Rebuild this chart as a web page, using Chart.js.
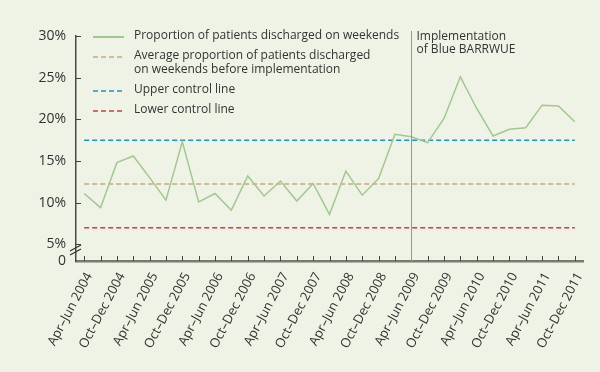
<!DOCTYPE html>
<html>
<head>
<meta charset="utf-8">
<script src="https://cdn.jsdelivr.net/npm/chart.js@4/dist/chart.umd.min.js"></script>
<style>
  html, body { margin: 0; padding: 0; background: #eef3e6; }
  canvas { display: block; }
</style>
</head>
<body>
<canvas id="chart" width="600" height="372"></canvas>
<script>
// quarterly data, Apr–Jun 2004 to Oct–Dec 2011
const quarters = [
  'Apr–Jun 2004', 'Jul–Sep 2004', 'Oct–Dec 2004', 'Jan–Mar 2005',
  'Apr–Jun 2005', 'Jul–Sep 2005', 'Oct–Dec 2005', 'Jan–Mar 2006',
  'Apr–Jun 2006', 'Jul–Sep 2006', 'Oct–Dec 2006', 'Jan–Mar 2007',
  'Apr–Jun 2007', 'Jul–Sep 2007', 'Oct–Dec 2007', 'Jan–Mar 2008',
  'Apr–Jun 2008', 'Jul–Sep 2008', 'Oct–Dec 2008', 'Jan–Mar 2009',
  'Apr–Jun 2009', 'Jul–Sep 2009', 'Oct–Dec 2009', 'Jan–Mar 2010',
  'Apr–Jun 2010', 'Jul–Sep 2010', 'Oct–Dec 2010', 'Jan–Mar 2011',
  'Apr–Jun 2011', 'Jul–Sep 2011', 'Oct–Dec 2011'
];
const weekendShare = [
  11.1, 9.4, 14.8, 15.6, 13.0, 10.3, 17.3, 10.1,
  11.1, 9.1, 13.2, 10.8, 12.6, 10.2, 12.3, 8.6,
  13.8, 10.9, 12.9, 18.2, 17.9, 17.2, 20.1, 25.1,
  21.3, 18.0, 18.8, 19.0, 21.7, 21.6, 19.7
];
const averageBefore = 12.25;
const upperControl = 17.5;
const lowerControl = 7.0;
const yTicks = [3, 5, 10, 15, 20, 25, 30];   // 3 is the broken-axis floor, shown as "0"
const implementationIndex = 20;
const implementationText = ['Implementation', 'of Blue BARRWUE'];

const FONT = '"Open Sans", sans-serif';

const flat = v => quarters.map(() => v);

const bgPlugin = {
  id: 'bg',
  beforeDraw(chart) {
    const ctx = chart.ctx;
    ctx.save();
    ctx.fillStyle = '#eef3e6';
    ctx.fillRect(0, 0, chart.width, chart.height);
    ctx.restore();
  }
};

const extrasPlugin = {
  id: 'extras',
  afterDraw(chart) {
    const ctx = chart.ctx;
    const x = chart.scales.x, y = chart.scales.y;
    const area = chart.chartArea;
    ctx.save();

    // inward tick marks
    ctx.strokeStyle = '#444';
    ctx.lineWidth = 1;
    x.ticks.forEach((t, i) => {
      const px = Math.round(x.getPixelForTick(i)) + 0.5;
      ctx.beginPath();
      ctx.moveTo(px, area.bottom);
      ctx.lineTo(px, area.bottom - 5);
      ctx.stroke();
    });
    y.ticks.forEach(t => {
      if (t.value < 5) return;
      const py = Math.round(y.getPixelForValue(t.value)) + 0.5;
      ctx.beginPath();
      ctx.moveTo(area.left, py);
      ctx.lineTo(area.left + 5, py);
      ctx.stroke();
    });

    // axis break marks
    ctx.strokeStyle = '#333';
    ctx.lineWidth = 1.2;
    [0, 4].forEach(d => {
      ctx.beginPath();
      ctx.moveTo(area.left - 6, 251 + d);
      ctx.lineTo(area.left + 5, 245 + d);
      ctx.stroke();
    });

    // implementation marker
    const ix = Math.round(x.getPixelForValue(implementationIndex)) + 0.5;
    ctx.strokeStyle = '#dd6fa2';
    ctx.lineWidth = 1;
    ctx.beginPath();
    ctx.moveTo(ix, 31);
    ctx.lineTo(ix, area.bottom);
    ctx.stroke();
    ctx.fillStyle = '#333';
    ctx.font = '12px ' + FONT;
    ctx.textBaseline = 'middle';
    ctx.textAlign = 'left';
    implementationText.forEach((line, i) => ctx.fillText(line, ix + 5, 37 + i * 12.5));

    // legend
    let rowY = 37;
    chart.data.datasets.forEach(ds => {
      const lines = ds.label.split('\n');
      ctx.strokeStyle = ds.borderColor;
      ctx.lineWidth = ds.borderDash ? 1.5 : 2;
      ctx.setLineDash(ds.borderDash || []);
      ctx.beginPath();
      ctx.moveTo(93, rowY);
      ctx.lineTo(124, rowY);
      ctx.stroke();
      ctx.setLineDash([]);
      ctx.fillStyle = '#333';
      lines.forEach((line, i) => ctx.fillText(line, 134, rowY - 1 + i * 14));
      rowY += lines.length > 1 ? 34 : 20;
    });
    ctx.restore();
  }
};

new Chart(document.getElementById('chart'), {
  type: 'line',
  data: {
    labels: quarters,
    datasets: [
      {
        label: 'Proportion of patients discharged on weekends',
        data: weekendShare,
        borderColor: '#a3c88f',
        borderWidth: 1.5,
        pointRadius: 0,
        tension: 0
      },
      {
        label: 'Average proportion of patients discharged\non weekends before implementation',
        data: flat(averageBefore),
        borderColor: '#c8ab7c',
        borderWidth: 1.5,
        borderDash: [5, 3],
        pointRadius: 0
      },
      {
        label: 'Upper control line',
        data: flat(upperControl),
        borderColor: '#1596d4',
        borderWidth: 1.5,
        borderDash: [5, 3],
        pointRadius: 0
      },
      {
        label: 'Lower control line',
        data: flat(lowerControl),
        borderColor: '#d83a3a',
        borderWidth: 1.5,
        borderDash: [5, 3],
        pointRadius: 0
      }
    ]
  },
  options: {
    responsive: false,
    animation: false,
    layout: { padding: { top: 36, right: 17, left: 0, bottom: 0 } },
    plugins: {
      legend: { display: false },
      tooltip: { enabled: false }
    },
    scales: {
      x: {
        offset: true,
        grid: { display: false, drawTicks: false },
        border: { display: true, color: '#7a7a72', width: 2.5 },
        afterFit: s => { s.height = 111; },
        ticks: {
          autoSkip: false,
          minRotation: 62,
          maxRotation: 62,
          padding: 9,
          labelOffset: 5,
          color: '#333',
          font: { family: FONT, size: 13 },
          callback: (v, i) => (i % 2 === 0 ? quarters[i] : '')
        }
      },
      y: {
        min: 3,
        max: 30,
        grid: { display: false, drawTicks: false },
        border: { display: true, color: '#4a4a4a', width: 1.5 },
        afterFit: s => { s.width = 76; },
        afterBuildTicks: s => { s.ticks = yTicks.map(v => ({ value: v })); },
        ticks: {
          padding: 10,
          color: '#333',
          font: { family: FONT, size: 14 },
          callback: v => (v === 3 ? '0' : v + '%')
        }
      }
    }
  },
  plugins: [bgPlugin, extrasPlugin]
});
</script>
</body>
</html>
